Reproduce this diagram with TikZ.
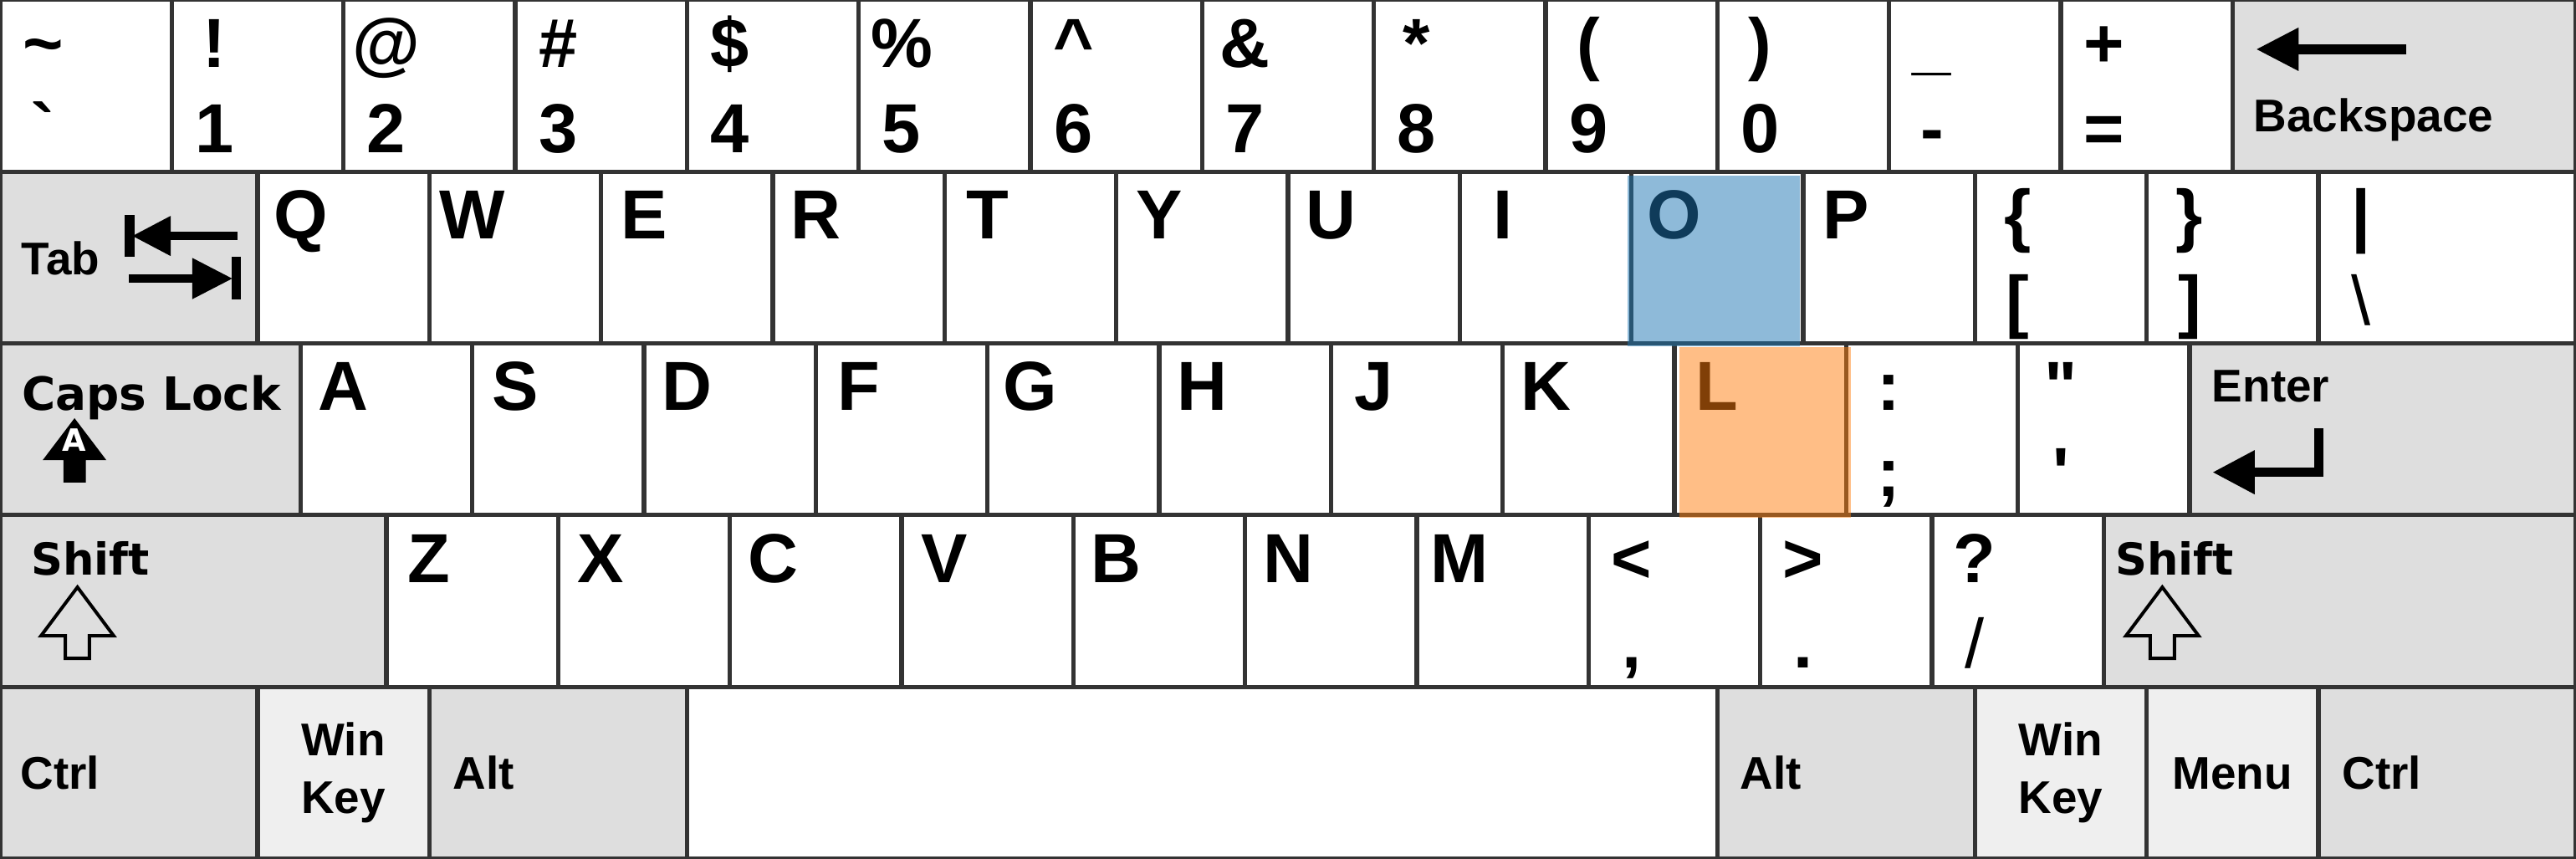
\documentclass[tikz,border=0pt]{standalone}
\usepackage{fontspec}
\newfontfamily\kf[Ligatures=TeXOff]{Liberation Sans}
\newfontfamily\kdv[Ligatures=TeXOff]{DejaVu Sans}
\definecolor{kborder}{HTML}{333333}
\definecolor{kgray}{HTML}{DEDEDE}
\definecolor{klight}{HTML}{EFEFEF}
\definecolor{tabblue}{RGB}{31,119,180}
\definecolor{taborange}{RGB}{255,127,14}
\tikzset{
  keybox/.style={draw=kborder, line width=0.7pt, fill=white, minimum height=1cm, inner sep=0pt, outer sep=0pt},
  modkey/.style={keybox, fill=kgray},
  litekey/.style={keybox, fill=klight},
  biglab/.style={font=\kf\bfseries\fontsize{11.5}{12}\selectfont, inner sep=0pt, anchor=base},
  thinlab/.style={font=\kf\fontsize{11.5}{12}\selectfont, inner sep=0pt, anchor=base},
  modlab/.style={font=\kf\bfseries\fontsize{7.6}{8}\selectfont, inner sep=0pt, anchor=base west},
  modlabc/.style={modlab, anchor=base},
  dvlab/.style={font=\kdv\bfseries\fontsize{7.6}{8}\selectfont, inner sep=0pt, anchor=base west},
  dvlabs/.style={font=\kdv\bfseries\fontsize{7.3}{8}\selectfont, inner sep=0pt, anchor=base west},
  tinylab/.style={font=\kdv\bfseries\fontsize{5.1}{6}\selectfont, inner sep=0pt, anchor=base, text=white},
  iconline/.style={line width=1.45pt, black},
  outlinearrow/.style={line width=0.55pt, black, line join=miter},
  hl/.style={minimum width=1cm, minimum height=0.995cm, inner sep=0pt, outer sep=0pt, draw=none, fill opacity=0.5},
}
% key box: name, xleft, ytop, width, style
\newcommand\KB[5]{\node[#5, minimum width=#4cm] (#1) at ({#2+#4/2},{#3-0.5}) {};}
% two-label key
\newcommand\TK[5]{\KB{#1}{#2}{#3}{1}{keybox}
  \node[biglab] (#1-t) at ({#2+0.25},{#3-0.39}) {#4};
  \node[biglab] (#1-b) at ({#2+0.25},{#3-0.89}) {#5};}
% letter key
\newcommand\LK[4]{\KB{#1}{#2}{#3}{1}{keybox}
  \node[biglab] (#1-t) at ({#2+0.25},{#3-0.39}) {#4};}
\begin{document}
\begin{tikzpicture}
\useasboundingbox (0,0) rectangle (15,5);
% ---------- row 1 ----------
\TK{kgrave}{0}{5}{\textasciitilde}{\symbol{96}}
\TK{k1}{1}{5}{!}{1}
\TK{k2}{2}{5}{@}{2}
\TK{k3}{3}{5}{\#}{3}
\TK{k4}{4}{5}{\$}{4}
\TK{k5}{5}{5}{\%}{5}
\TK{k6}{6}{5}{\textasciicircum}{6}
\TK{k7}{7}{5}{\&}{7}
\TK{k8}{8}{5}{*}{8}
\TK{k9}{9}{5}{(}{9}
\TK{k0}{10}{5}{)}{0}
\TK{kminus}{11}{5}{\_}{-}
\TK{kequal}{12}{5}{+}{=}
\KB{kbs}{13}{5}{2}{modkey}
\node[modlab] (kbs-l) at (13.117,{5-0.765}) {Backspace};
\coordinate (bs-tail) at (14.013,4.713);
\coordinate (bs-back) at (13.385,4.713);
\draw[line width=1.66pt] (bs-tail) -- (bs-back);
\fill (13.141,4.713) -- (13.385,4.840) -- (13.385,4.586) -- cycle;
% ---------- row 2 ----------
\KB{ktab}{0}{4}{1.5}{modkey}
\node[modlab] (ktab-l) at (0.119,{4-0.598}) {Tab};
% upper tab arrow
\draw[line width=1.6pt] (0.755,3.748) -- (0.755,3.505);
\draw[iconline] (1.381,3.626) -- (0.99,3.626);
\fill (0.772,3.626) -- (0.994,3.743) -- (0.994,3.509) -- cycle;
% lower tab arrow
\draw[line width=1.6pt] (1.376,3.505) -- (1.376,3.256);
\draw[iconline] (0.75,3.378) -- (1.125,3.378);
\fill (1.352,3.378) -- (1.12,3.498) -- (1.12,3.258) -- cycle;
\LK{kq}{1.5}{4}{Q}
\LK{kw}{2.5}{4}{W}
\LK{ke}{3.5}{4}{E}
\LK{kr}{4.5}{4}{R}
\LK{kt}{5.5}{4}{T}
\LK{ky}{6.5}{4}{Y}
\LK{ku}{7.5}{4}{U}
\LK{ki}{8.5}{4}{I}
\LK{ko}{9.5}{4}{O}
\LK{kp}{10.5}{4}{P}
\TK{klbr}{11.5}{4}{\{}{[}
\TK{krbr}{12.5}{4}{\}}{]}
\KB{kbsl}{13.5}{4}{1.5}{keybox}
\node[biglab] (kbsl-t) at (13.75,{4-0.39}) {|};
\node[thinlab] (kbsl-b) at (13.75,{4-0.89}) {\textbackslash};
% ---------- row 3 ----------
\KB{kcaps}{0}{3}{1.75}{modkey}
\node[dvlab] (kcaps-l) at (0.12,{3-0.387}) {Caps Lock};
\fill (0.434,2.565) -- (0.619,2.321) -- (0.50,2.321) -- (0.50,2.19) -- (0.37,2.19) -- (0.37,2.321) -- (0.249,2.321) -- cycle;
\node[tinylab] (kcaps-a) at (0.434,2.37) {A};
\LK{ka}{1.75}{3}{A}
\LK{ks}{2.75}{3}{S}
\LK{kd}{3.75}{3}{D}
\LK{kf}{4.75}{3}{F}
\LK{kg}{5.75}{3}{G}
\LK{kh}{6.75}{3}{H}
\LK{kj}{7.75}{3}{J}
\LK{kk}{8.75}{3}{K}
\LK{kl}{9.75}{3}{L}
\TK{ksemi}{10.75}{3}{:}{;}
\TK{kquote}{11.75}{3}{"}{'}
\KB{kenter}{12.75}{3}{2.25}{modkey}
\node[modlab] (kenter-l) at (12.874,{3-0.338}) {Enter};
\draw[iconline, line width=1.5pt, line join=miter] (13.504,2.506) -- (13.504,2.25) -- (13.125,2.25);
\fill (12.887,2.25) -- (13.129,2.379) -- (13.129,2.121) -- cycle;
% ---------- row 4 ----------
\KB{klshift}{0}{2}{2.25}{modkey}
\node[dvlabs] (klshift-l) at (0.175,{2-0.346}) {Shift};
\draw[outlinearrow] (0.451,1.581) -- (0.662,1.298) -- (0.521,1.298) -- (0.521,1.167) -- (0.38,1.167) -- (0.38,1.298) -- (0.239,1.298) -- cycle;
\LK{kz}{2.25}{2}{Z}
\LK{kx}{3.25}{2}{X}
\LK{kc}{4.25}{2}{C}
\LK{kv}{5.25}{2}{V}
\LK{kb}{6.25}{2}{B}
\LK{kn}{7.25}{2}{N}
\LK{km}{8.25}{2}{M}
\TK{kcomma}{9.25}{2}{<}{,}
\TK{kperiod}{10.25}{2}{>}{.}
\KB{kslash}{11.25}{2}{1}{keybox}
\node[biglab] (kslash-t) at (11.5,{2-0.39}) {?};
\node[thinlab] (kslash-b) at (11.5,{2-0.89}) {/};
\KB{krshift}{12.25}{2}{2.75}{modkey}
\node[dvlabs] (krshift-l) at (12.31,{2-0.346}) {Shift};
\draw[outlinearrow] (12.591,1.581) -- (12.8025,1.298) -- (12.6615,1.298) -- (12.6615,1.167) -- (12.5205,1.167) -- (12.5205,1.298) -- (12.3795,1.298) -- cycle;
% ---------- row 5 ----------
\KB{klctrl}{0}{1}{1.5}{modkey}
\node[modlab] (klctrl-l) at (0.112,{1-0.593}) {Ctrl};
\KB{klwin}{1.5}{1}{1}{litekey}
\node[modlabc] (klwin-a) at (2,{1-0.398}) {Win};
\node[modlabc] (klwin-b) at (2,{1-0.735}) {Key};
\KB{klalt}{2.5}{1}{1.5}{modkey}
\node[modlab] (klalt-l) at (2.63,{1-0.593}) {Alt};
\KB{kspace}{4}{1}{6}{keybox}
\KB{kralt}{10}{1}{1.5}{modkey}
\node[modlab] (kralt-l) at (10.127,{1-0.593}) {Alt};
\KB{krwin}{11.5}{1}{1}{litekey}
\node[modlabc] (krwin-a) at (12,{1-0.398}) {Win};
\node[modlabc] (krwin-b) at (12,{1-0.735}) {Key};
\KB{kmenu}{12.5}{1}{1}{litekey}
\node[modlabc] (kmenu-l) at (13,{1-0.593}) {Menu};
\KB{krctrl}{13.5}{1}{1.5}{modkey}
\node[modlab] (krctrl-l) at (13.633,{1-0.593}) {Ctrl};
% ---------- highlights ----------
\node[hl, fill=tabblue] (hlO) at (9.979,3.4795) {};
\node[hl, fill=taborange] (hlL) at (10.2785,2.481) {};
\end{tikzpicture}
\end{document}
